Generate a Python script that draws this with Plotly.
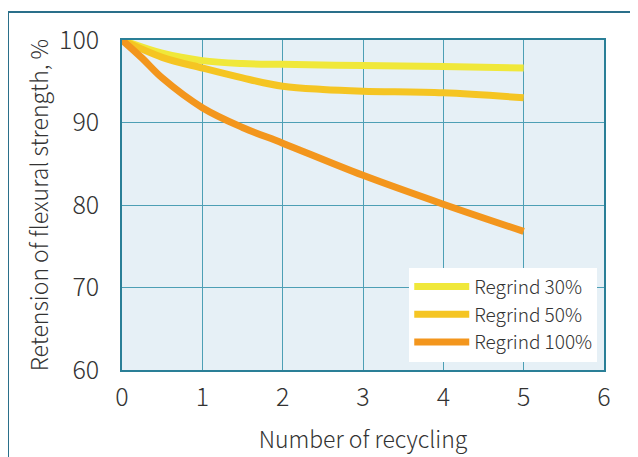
import plotly.graph_objects as go

# data
cyc_30 = [0, 0.5, 1, 1.5, 2, 3, 4, 5]
regrind_30 = [100, 98.4, 97.5, 97.15, 97.05, 96.9, 96.8, 96.6]
cyc_50 = [0, 0.5, 1, 1.5, 2, 2.5, 3, 4, 5]
regrind_50 = [100, 97.9, 96.6, 95.4, 94.4, 94.0, 93.8, 93.6, 93.0]
cyc_100 = [0, 0.25, 0.5, 1, 1.5, 2, 3, 4, 5]
regrind_100 = [100, 97.8, 95.4, 91.8, 89.4, 87.5, 83.6, 80.1, 76.8]

names = ["Regrind 30%", "Regrind 50%", "Regrind 100%"]
colors = ["#f0e83a", "#f5c523", "#f3961d"]

fig = go.Figure()
for name, xs, ys, c in zip(names, [cyc_30, cyc_50, cyc_100],
                           [regrind_30, regrind_50, regrind_100], colors):
    fig.add_trace(go.Scatter(x=xs, y=ys, name=name, mode="lines",
                             line=dict(color=c, width=7, shape="spline", smoothing=1)))

grid = "#4d9fb5"
txt = "#333"
fig.update_xaxes(range=[0, 6], dtick=1, showgrid=True, gridcolor=grid, gridwidth=1,
                 showline=True, linecolor="#2a7f97", linewidth=1.5, mirror=True,
                 zeroline=False, ticks="", ticklabelstandoff=4,
                 tickfont=dict(size=25, color=txt, weight=300),
                 title=dict(text="Number of recycling",
                            font=dict(size=23, color=txt, weight=300), standoff=20))
fig.update_yaxes(range=[60, 100], dtick=10, showgrid=True, gridcolor=grid, gridwidth=1,
                 showline=True, linecolor="#2a7f97", linewidth=1.5, mirror=True,
                 zeroline=False, ticks="", ticklabelstandoff=16,
                 tickfont=dict(size=25, color=txt, weight=300),
                 title=dict(text="Retension of flexural strength, %",
                            font=dict(size=23, color=txt, weight=300), standoff=4))

# outer frame, clipped by page edges like the reference
fig.add_shape(type="rect", xref="paper", yref="paper",
              x0=(7 - 121) / 482, x1=(660 - 121) / 482,
              y0=(369 - 480) / 330, y1=(369 - 11) / 330,
              line=dict(color="#2a6f8a", width=2), layer="below")

fig.update_layout(
    width=638, height=457,
    margin=dict(l=114, r=42, t=32, b=95),
    plot_bgcolor="#e6f0f6", paper_bgcolor="white",
    font=dict(family="Noto Sans CJK JP, DejaVu Sans", color=txt),
    legend=dict(x=0.986, y=0.025, xanchor="right", yanchor="bottom",
                bgcolor="white", font=dict(size=19, color=txt, weight=300),
                tracegroupgap=0, itemwidth=55),
    showlegend=True,
)

fig.write_html("out.html")
